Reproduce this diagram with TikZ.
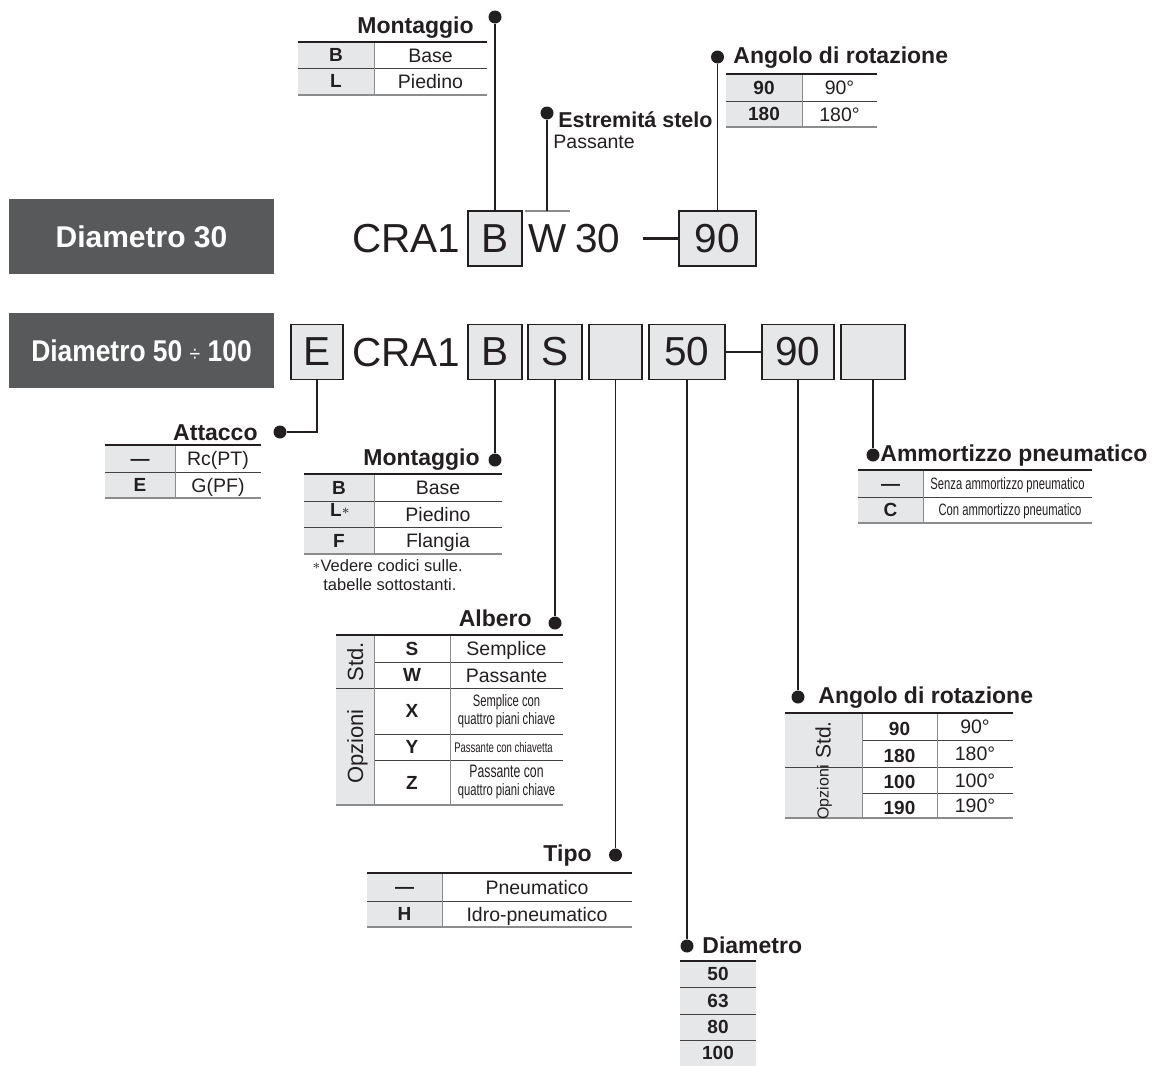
\documentclass[tikz,border=0pt]{standalone}
\usepackage{fontspec}
\usepackage{graphicx}
\setmainfont{Liberation Sans}
\newfontfamily\narrowfont[FakeStretch=0.68]{Liberation Sans}
\usepackage{tikz}

\definecolor{ink}{HTML}{231F20}
\definecolor{boxgray}{HTML}{E6E7E8}
\definecolor{headgray}{HTML}{58595B}
\definecolor{rulegray}{HTML}{8A8C8E}

\begin{document}
\begin{tikzpicture}[x=0.5pt, y=-0.5pt,
    codebox/.style={draw=ink, line width=0.8pt, fill=boxgray, minimum height=27.5pt, inner sep=0pt, text=ink, font=\fontsize{20.25}{22}\selectfont},
    codetext/.style={inner sep=0pt, text=ink, font=\fontsize{20.25}{22}\selectfont},
    headbox/.style={fill=headgray, minimum width=132.5pt, minimum height=37.5pt, text=white, font=\bfseries\fontsize{15}{18}\selectfont},
    dot/.style={circle, fill=ink, inner sep=0pt, minimum size=6.5pt},
    conn/.style={draw=ink, line width=0.75pt},
    lab/.style={inner sep=0pt, text=ink, font=\bfseries\fontsize{11.5}{13}\selectfont},
    cell/.style={inner sep=0pt, text=ink, text height=7pt, text depth=0pt, font=\fontsize{9.75}{11}\selectfont},
    key/.style={inner sep=0pt, text=ink, text height=6.8pt, text depth=0pt, font=\bfseries\fontsize{9.5}{11}\selectfont},
    thin/.style={inner sep=0pt, text=ink, align=center, text height=5.9pt, text depth=0pt, font=\narrowfont\fontsize{8.25}{9}\selectfont},
    thintwo/.style={inner sep=0pt, text=ink, align=center, font=\narrowfont\fontsize{8.25}{9}\selectfont},
    note/.style={inner sep=0pt, text=ink, font=\fontsize{8.25}{10}\selectfont},
    toprule/.style={draw=ink, line width=0.8pt},
    midrule/.style={draw=ink!85, line width=0.45pt},
    botrule/.style={draw=rulegray, line width=0.8pt},
    colrule/.style={draw=rulegray, line width=0.5pt}]

    \useasboundingbox (0,0) rectangle (1164,1066);

    % Headings
    \node[headbox] (h30) at (141.5,236.5) {Diametro 30};
    \node[headbox] (h50) at (141.5,350.5) {\scalebox{0.88}[1]{Diametro 50 {\mdseries\fontsize{11}{13}\selectfont ÷} 100}};

    % Code, diameter 30
    \node[codetext, anchor=base west] (cra30) at (352,252) {CRA1};
    \node[codebox, minimum width=27pt] (b30) at (495,238.5) {B};
    \node[codetext, anchor=base west] (w30) at (528,252) {W};
    \node[codetext, anchor=base west] (n30) at (575,252) {30};
    \node[codebox, minimum width=38.5pt] (r30) at (717.5,238.5) {90};
    \coordinate (dash30) at (643,238.5);
    \coordinate (wtop) at (547,211);
    \draw[ink, line width=1.4pt] (dash30) -- (r30.west);
    \draw[colrule, line width=0.7pt] (525,211) -- (570,211);

    % Code, diameter 50 - 100
    \node[codebox, minimum width=26pt] (e) at (317,352) {E};
    \node[codetext, anchor=base west] (cra) at (352,366) {CRA1};
    \node[codebox, minimum width=27pt] (bm) at (495,352) {B};
    \node[codebox, minimum width=27pt] (sa) at (555,352) {S};
    \node[codebox, minimum width=26.5pt] (ti) at (615.5,352) {};
    \node[codebox, minimum width=38pt] (di) at (687,352) {50};
    \node[codebox, minimum width=36pt] (an) at (798,352) {90};
    \node[codebox, minimum width=32pt] (am) at (873,352) {};
    \draw[ink, line width=1.4pt] (di) -- (an);

    % Montaggio (top)
    \node[dot] (dm1) at (495,17) {};
    \node[lab, anchor=base east] (lm1) at (474,33) {Montaggio};
    \draw[conn] (b30.north) -- (dm1);
    \fill[boxgray] (298,42) rectangle (374,95);
    \draw[midrule] (298,68) -- (487,68);
    \draw[colrule] (374,42) -- (374,95);
    \draw[toprule] (298,42) -- (487,42);
    \draw[botrule] (298,95) -- (487,95);
    \node[key] (kb1) at (336,55) {B};
    \node[cell] (tb1) at (430.5,55) {Base};
    \node[key] (kl1) at (336,81) {L};
    \node[cell] (tl1) at (430.5,81) {Piedino};

    % Estremita stelo
    \node[dot] (des) at (547,113) {};
    \node[lab, anchor=base west, font=\bfseries\fontsize{10.75}{13}\selectfont] (les) at (558,127) {Estremitá stelo};
    \node[note, anchor=base west, font=\fontsize{9.75}{11}\selectfont] (pes) at (553,148) {Passante};
    \draw[conn] (wtop) -- (des);

    % Angolo di rotazione (top)
    \node[dot] (dr1) at (717.5,57) {};
    \node[lab, anchor=base west] (lr1) at (733,63) {Angolo di rotazione};
    \draw[conn] (r30.north) -- (dr1);
    \fill[boxgray] (726,74) rectangle (802,127);
    \draw[midrule] (726,101) -- (877,101);
    \draw[colrule] (802,74) -- (802,127);
    \draw[toprule] (726,74) -- (877,74);
    \draw[botrule] (726,127) -- (877,127);
    \node[key] (k901) at (764,87.5) {90};
    \node[cell] (t901) at (839.5,87.5) {90°};
    \node[key] (k1801) at (764,114) {180};
    \node[cell] (t1801) at (839.5,114) {180°};

    % Attacco
    \node[dot] (dat) at (280,432) {};
    \node[lab, anchor=base east] (lat) at (258,440) {Attacco};
    \draw[conn] (e.south) |- (dat);
    \fill[boxgray] (105,445) rectangle (175,498);
    \draw[midrule] (105,472) -- (261,472);
    \draw[colrule] (175,445) -- (175,498);
    \draw[toprule] (105,445) -- (261,445);
    \draw[botrule] (105,498) -- (261,498);
    \node[key] (krc) at (140,458.5) {—};
    \node[cell] (trc) at (218,458.5) {Rc(PT)};
    \node[key] (kg) at (140,485) {E};
    \node[cell] (tg) at (218,485) {G(PF)};

    % Montaggio
    \node[dot] (dm2) at (495,460) {};
    \node[lab, anchor=base east] (lm2) at (480,465) {Montaggio};
    \draw[conn] (bm.south) -- (dm2);
    \fill[boxgray] (304,474) rectangle (374,554);
    \draw[midrule] (304,501) -- (502,501);
    \draw[midrule] (304,527) -- (502,527);
    \draw[colrule] (374,474) -- (374,554);
    \draw[toprule] (304,474) -- (502,474);
    \draw[botrule] (304,554) -- (502,554);
    \node[key] (kb2) at (339,487.5) {B};
    \node[cell] (tb2) at (438,487.5) {Base};
    \node[key] (kl2) at (340,510) {L\raisebox{1pt}{\mdseries\fontsize{7}{7}\selectfont$\ast$}};
    \node[cell] (tl2) at (438,514) {Piedino};
    \node[key] (kf2) at (339,540.5) {F};
    \node[cell] (tf2) at (438,540.5) {Flangia};
    \node[note, anchor=west] (nt1) at (312,566) {\raisebox{1pt}{\fontsize{7}{7}\selectfont$\ast$}Vedere codici sulle.};
    \node[note, anchor=west] (nt2) at (323,585) {tabelle sottostanti.};

    % Ammortizzo pneumatico
    \node[dot] (dam) at (873,455) {};
    \node[lab, anchor=base west] (lam) at (880,461) {Ammortizzo pneumatico};
    \draw[conn] (am.south) -- (dam);
    \fill[boxgray] (858,470) rectangle (923,523);
    \draw[midrule] (858,497) -- (1092,497);
    \draw[colrule] (923,470) -- (923,523);
    \draw[toprule] (858,470) -- (1092,470);
    \draw[botrule] (858,523) -- (1092,523);
    \node[key] (ksz) at (890.5,483.5) {—};
    \node[thin] (tsz) at (1007.5,483.5) {Senza ammortizzo pneumatico};
    \node[key] (kc) at (890.5,510) {C};
    \node[thin] (tc) at (1010,510) {Con ammortizzo pneumatico};

    % Albero
    \node[dot] (dal) at (555,623) {};
    \node[lab, anchor=base east] (lal) at (532,626) {Albero};
    \draw[conn] (sa.south) -- (dal);
    \fill[boxgray] (336,635) rectangle (374,805);
    \draw[midrule] (374,662) -- (563,662);
    \draw[midrule] (336,688) -- (563,688);
    \draw[midrule] (374,734) -- (563,734);
    \draw[midrule] (374,760) -- (563,760);
    \draw[colrule] (374,635) -- (374,805);
    \draw[colrule] (450,635) -- (450,805);
    \draw[toprule] (336,635) -- (563,635);
    \draw[botrule] (336,805) -- (563,805);
    \node[cell, rotate=90, text height=8pt, font=\fontsize{11}{12}\selectfont] (stdA) at (355,661.5) {Std.};
    \node[cell, rotate=90, text height=8pt, font=\fontsize{11}{12}\selectfont] (opA) at (355,746.5) {Opzioni};
    \node[key] (ks) at (412,648.5) {S};
    \node[cell] (ts) at (506.5,648.5) {Semplice};
    \node[key] (kw) at (412,675) {W};
    \node[cell] (tw) at (506.5,675) {Passante};
    \node[key] (kx) at (412,711) {X};
    \node[thintwo] (tx) at (506.5,711.5) {Semplice con\\quattro piani chiave};
    \node[key] (ky) at (412,747) {Y};
    \node[thin, text height=5pt, font=\narrowfont\fontsize{7}{8}\selectfont] (ty) at (503.5,747) {Passante con chiavetta};
    \node[key] (kz) at (412,782.5) {Z};
    \node[thintwo] (tz) at (506.5,782.5) {{\fontsize{9}{9}\selectfont Passante con}\\quattro piani chiave};

    % Angolo di rotazione
    \node[dot] (dr2) at (798,697) {};
    \node[lab, anchor=base west] (lr2) at (818,703) {Angolo di rotazione};
    \draw[conn] (an.south) -- (dr2);
    \fill[boxgray] (785,713) rectangle (862,818);
    \draw[midrule] (862,740) -- (1013,740);
    \draw[midrule] (785,767) -- (1013,767);
    \draw[midrule] (862,793) -- (1013,793);
    \draw[colrule] (862,713) -- (862,818);
    \draw[colrule] (937,713) -- (937,818);
    \draw[toprule] (785,713) -- (1013,713);
    \draw[botrule] (785,818) -- (1013,818);
    \node[cell, rotate=90, text height=7.6pt, font=\fontsize{10.5}{12}\selectfont] (stdB) at (823,740) {Std.};
    \node[cell, rotate=90, text height=5.7pt, font=\fontsize{8}{9}\selectfont] (opB) at (823,792.5) {Opzioni};
    \node[key] (k90) at (899.5,728.5) {90};
    \node[cell] (t90) at (975,726.5) {90°};
    \node[key] (k180) at (899.5,755.5) {180};
    \node[cell] (t180) at (975,753.5) {180°};
    \node[key] (k100) at (899.5,782) {100};
    \node[cell] (t100) at (975,780) {100°};
    \node[key] (k190) at (899.5,807.5) {190};
    \node[cell] (t190) at (975,805.5) {190°};

    % Tipo
    \node[dot] (dti) at (615.5,855) {};
    \node[lab, anchor=base east] (lti) at (592,861) {Tipo};
    \draw[conn] (ti.south) -- (dti);
    \fill[boxgray] (367,873) rectangle (442,927);
    \draw[midrule] (367,901) -- (632,901);
    \draw[colrule] (442,873) -- (442,927);
    \draw[toprule] (367,873) -- (632,873);
    \draw[botrule] (367,927) -- (632,927);
    \node[key] (kpn) at (404.5,887) {—};
    \node[cell] (tpn) at (537,887) {Pneumatico};
    \node[key] (kh) at (404.5,914) {H};
    \node[cell] (th) at (537,914) {Idro-pneumatico};

    % Diametro
    \node[dot] (ddi) at (687,946) {};
    \node[lab, anchor=base west] (ldi) at (702,953) {Diametro};
    \draw[conn] (di.south) -- (ddi);
    \fill[boxgray] (680,961) rectangle (756,1066);
    \draw[midrule] (680,987) -- (756,987);
    \draw[midrule] (680,1014) -- (756,1014);
    \draw[midrule] (680,1040) -- (756,1040);
    \draw[toprule] (680,961) -- (756,961);
    \node[key] (k50) at (718,974) {50};
    \node[key] (k63) at (718,1000.5) {63};
    \node[key] (k80) at (718,1027) {80};
    \node[key] (k100d) at (718,1053) {100};
\end{tikzpicture}
\end{document}
